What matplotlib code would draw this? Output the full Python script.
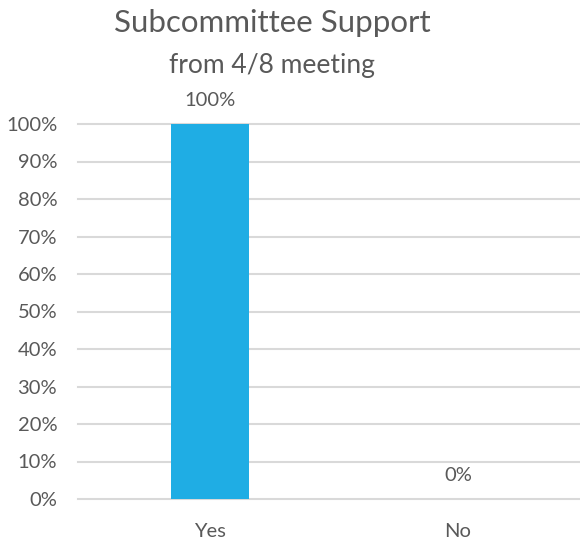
import matplotlib
matplotlib.use("Agg")
import matplotlib.pyplot as plt
from matplotlib.ticker import PercentFormatter, MultipleLocator

categories = ["Yes", "No"]
values = [1.00, 0.00]
value_labels = ["100%", "0%"]

plt.rcParams['font.family'] = ['Lato', 'DejaVu Sans']
txt = "#595959"
W, H = 580, 543
fig = plt.figure(figsize=(W/100, H/100), dpi=100)
ax = fig.add_axes([78/W, 44/H, (580-78)/W, (499-124)/H])

x = list(range(len(categories)))
ax.bar(x, values, width=0.315, color="#1FADE4", zorder=3)
ax.set_xlim(-(210-78)/248, 1 + (580-458)/248)
ax.set_ylim(0, 1)
ax.yaxis.set_major_locator(MultipleLocator(0.1))
ax.yaxis.set_major_formatter(PercentFormatter(1.0, decimals=0))
ax.set_xticks(x)
ax.set_xticklabels(categories)
ax.grid(axis='y', color="#D9D9D9", linewidth=1.5, zorder=0)
for g in ax.get_ygridlines():
    g.set_clip_on(False)
for s in ax.spines.values():
    s.set_visible(False)
ax.tick_params(axis='both', length=0, labelsize=14.5, colors=txt)
ax.tick_params(axis='y', pad=15)
ax.tick_params(axis='x', pad=17)

for xi, v, lab in zip(x, values, value_labels):
    ax.annotate(lab, (xi, v), xytext=(0, 11), textcoords='offset points',
                ha='center', va='bottom', fontsize=14.5, color=txt)

cx = 272 / W
fig.text(cx, 1 - 23/H, "Subcommittee Support", ha='center', va='center', fontsize=22.5, color=txt)
fig.text(cx, 1 - 66/H, "from 4/8 meeting", ha='center', va='center', fontsize=19, color=txt)

fig.savefig("out.png", dpi=100)
